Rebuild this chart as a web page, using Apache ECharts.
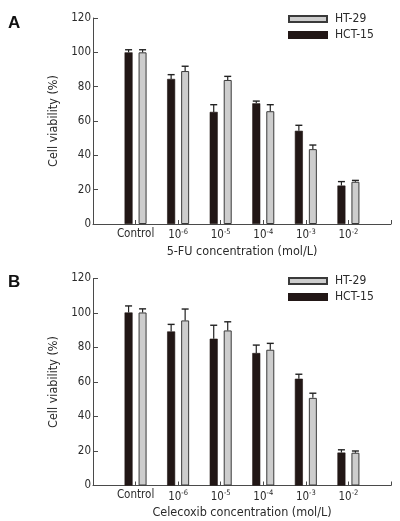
<!DOCTYPE html>
<html>
<head>
<meta charset="utf-8">
<script src="https://cdn.jsdelivr.net/npm/echarts@6/dist/echarts.min.js"></script>
<style>html,body{margin:0;padding:0;background:#fff;}#c{width:400px;height:521px;}</style>
</head>
<body>
<div id="c"></div>
<script>
// ---- data ----
const categories = ['', 'Control', '10^-6', '10^-5', '10^-4', '10^-3', '10^-2', ''];
const seriesNames = ['HCT-15', 'HT-29'];
const yTicks = [0, 20, 40, 60, 80, 100, 120];
// Panel A: 5-FU
const fuHCT15 = [null, 100, 84.5, 65.3, 70.3, 54.3, 22.4, null];
const fuHCT15Err = [null, 1.5, 2.5, 4.2, 1.3, 3.2, 2.3, null];
const fuHT29 = [null, 100, 89.1, 83.9, 65.7, 43.6, 24.6, null];
const fuHT29Err = [null, 1.5, 2.8, 2.1, 3.8, 2.4, 0.8, null];
// Panel B: Celecoxib
const celHCT15 = [null, 100.3, 89.3, 85.1, 76.8, 61.9, 19.1, null];
const celHCT15Err = [null, 3.8, 4.1, 7.8, 4.6, 2.6, 1.6, null];
const celHT29 = [null, 100.3, 95.7, 89.9, 78.7, 50.8, 19.0, null];
const celHT29Err = [null, 2.1, 6.6, 5.0, 3.7, 2.7, 1.0, null];
const xTitles = ['5-FU concentration (mol/L)', 'Celecoxib concentration (mol/L)'];
const yTitle = 'Cell viability (%)';
const panelLetters = ['A', 'B'];

// ---- styling ----
const FONT = '"DejaVu Sans Condensed", "Liberation Sans", Arial, sans-serif';
const DARK = '#221716';
const GRAY = '#cdcdcd';
const TXT = '#2a2a2a';
const AX = '#4a4a4a';
const grids = [
  {left: 93, right: 9, top: 18, height: 206},
  {left: 93, right: 9, top: 278.5, height: 207}
];

function labelFmt(v) {
  if (!v) return '';
  const m = v.match(/^10\^(.*)$/);
  if (m) return '{b|10}{s|' + m[1] + '}';
  return '{b|' + v + '}';
}

const xAxes = grids.map((g, i) => ({
  type: 'category', gridIndex: i, data: categories, boundaryGap: false,
  axisLine: {show: true, lineStyle: {color: AX, width: 1}},
  axisTick: {show: true, inside: true, length: 4, lineStyle: {color: AX}},
  axisLabel: {
    interval: 0, margin: 4, formatter: labelFmt, color: TXT,
    rich: {
      b: {fontFamily: FONT, fontSize: 11.5, color: TXT},
      s: {fontFamily: FONT, fontSize: 7.5, color: TXT, padding: [0, 0, 7, 0]}
    }
  },
  name: xTitles[i], nameLocation: 'middle', nameGap: 21,
  nameTextStyle: {fontFamily: FONT, fontSize: 12.5, color: TXT}
}));

const yAxes = grids.map((g, i) => ({
  type: 'value', gridIndex: i, min: 0, max: 120, interval: 20,
  axisLine: {show: true, lineStyle: {color: AX, width: 1}},
  axisTick: {show: true, inside: true, length: 5, lineStyle: {color: AX}},
  splitLine: {show: false},
  axisLabel: {margin: 2, color: TXT, fontFamily: FONT, fontSize: 11.5,
    formatter: v => yTicks.includes(v) ? String(v) : ''},
  name: yTitle, nameLocation: 'middle', nameGap: 24,
  nameTextStyle: {fontFamily: FONT, fontSize: 12.5, color: TXT}
}));

function barSeries(name, data, idx) {
  const dark = name === 'HCT-15';
  return {
    type: 'bar', name: name, xAxisIndex: idx, yAxisIndex: idx, data: data,
    barWidth: 8, barGap: '75%',
    itemStyle: dark ? {color: DARK, borderColor: DARK, borderWidth: 0.6}
                    : {color: GRAY, borderColor: '#3a3a3a', borderWidth: 1},
    z: 2
  };
}

function errSeries(vals, errs, idx, dx) {
  const d = [];
  vals.forEach((v, k) => { if (v != null) d.push([k, v, errs[k]]); });
  return {
    type: 'custom', xAxisIndex: idx, yAxisIndex: idx, data: d, z: 3, silent: true,
    renderItem: function (params, api) {
      const x = api.value(0), v = api.value(1), e = api.value(2);
      const p0 = api.coord([x, v]);
      const p1 = api.coord([x, v + e]);
      const cx = p0[0] + dx;
      return {
        type: 'group', children: [
          {type: 'line', shape: {x1: cx, y1: p0[1], x2: cx, y2: p1[1]}, style: {stroke: '#222', lineWidth: 1.2}},
          {type: 'line', shape: {x1: cx - 3.5, y1: p1[1], x2: cx + 3.5, y2: p1[1]}, style: {stroke: '#222', lineWidth: 1.4}}
        ]
      };
    }
  };
}

const DX = 7;
const series = [
  barSeries('HCT-15', fuHCT15, 0), barSeries('HT-29', fuHT29, 0),
  errSeries(fuHCT15, fuHCT15Err, 0, -DX), errSeries(fuHT29, fuHT29Err, 0, DX),
  barSeries('HCT-15', celHCT15, 1), barSeries('HT-29', celHT29, 1),
  errSeries(celHCT15, celHCT15Err, 1, -DX), errSeries(celHT29, celHT29Err, 1, DX)
];

const legends = [13, 275].map(t => ({
  orient: 'vertical', left: 288, top: t, padding: 0, itemWidth: 38, itemHeight: 6, itemGap: 4,
  data: ['HT-29', 'HCT-15'], icon: 'rect', selectedMode: false,
  textStyle: {fontFamily: FONT, fontSize: 12, color: TXT, padding: [0, 0, 0, 3]}
}));

const option = {
  backgroundColor: '#fff',
  animation: false,
  grid: grids,
  xAxis: xAxes,
  yAxis: yAxes,
  legend: legends,
  title: [
    {text: panelLetters[0], left: 3, top: 10, textStyle: {fontFamily: '"Liberation Sans", Arial, sans-serif', fontWeight: 'bold', fontSize: 17, color: '#111'}},
    {text: panelLetters[1], left: 3, top: 269, textStyle: {fontFamily: '"Liberation Sans", Arial, sans-serif', fontWeight: 'bold', fontSize: 17, color: '#111'}}
  ],
  series: series
};

const chart = echarts.init(document.getElementById('c'), null, {renderer: 'canvas'});
chart.setOption(option);
</script>
</body>
</html>
